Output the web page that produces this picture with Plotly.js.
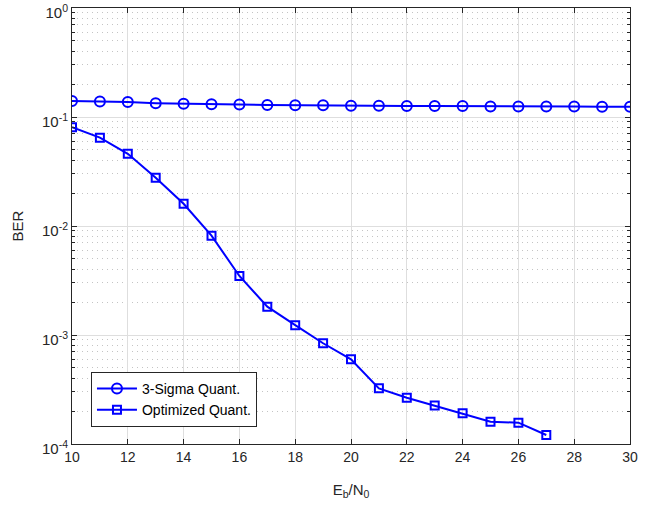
<!DOCTYPE html>
<html>
<head>
<meta charset="utf-8">
<script src="https://cdn.plot.ly/plotly-3.0.1.min.js"></script>
<style>html,body{margin:0;padding:0;background:#fff;}#plot{width:659px;height:510px;}</style>
</head>
<body>
<div id="plot"></div>
<script>
const ebn0_sigma = [10,11,12,13,14,15,16,17,18,19,20,21,22,23,24,25,26,27,28,29,30];
const ber_sigma = [0.140,0.139,0.137,0.134,0.132,0.131,0.130,0.129,0.128,0.128,0.127,0.127,0.126,0.126,0.126,0.125,0.125,0.125,0.125,0.124,0.124];
const ebn0_opt = [10,11,12,13,14,15,16,17,18,19,20,21,22,23,24,25,26,27];
const ber_opt = [0.0805,0.0646,0.046,0.0277,0.0160,0.00815,0.00348,0.00182,0.00123,0.00084,0.000598,0.000324,0.000266,0.000225,0.000191,0.000160,0.000157,0.000121];
const yTickVals = [1e-4,1e-3,1e-2,1e-1,1];
const yTickText = ['10<sup>-4</sup>','10<sup>-3</sup>','10<sup>-2</sup>','10<sup>-1</sup>','10<sup>0</sup>'];
const xTickVals = [10,12,14,16,18,20,22,24,26,28,30];
const seriesNames = ['3-Sigma Quant.','Optimized Quant.'];

const blue = '#0000ff';
const traces = [
  {x: ebn0_sigma, y: ber_sigma, name: seriesNames[0], mode: 'lines+markers',
   line: {color: blue, width: 2},
   marker: {symbol: 'circle-open', size: 10, color: blue, line: {color: blue, width: 2}}},
  {x: ebn0_opt, y: ber_opt, name: seriesNames[1], mode: 'lines+markers',
   line: {color: blue, width: 2},
   marker: {symbol: 'square-open', size: 8, color: blue, line: {color: blue, width: 2}}}
];
const axisCol = '#262626';
const layout = {
  width: 659, height: 510,
  margin: {l: 72, r: 29, t: 8, b: 66},
  paper_bgcolor: '#fff', plot_bgcolor: '#fff',
  font: {family: 'Liberation Sans, Arial, sans-serif', size: 14, color: axisCol},
  showlegend: true,
  legend: {x: 0.034, y: 0.039, xanchor: 'left', yanchor: 'bottom',
           bgcolor: '#fff', bordercolor: axisCol, borderwidth: 1,
           font: {size: 14, color: '#000'}, tracegroupgap: 0, itemwidth: 40},
  xaxis: {range: [10, 30], tickvals: xTickVals, ticks: 'inside', ticklen: 5,
          tickfont: {size: 14}, ticklabeloverflow: 'allow',
          tickcolor: axisCol, showline: true, linecolor: axisCol, linewidth: 1, mirror: 'ticks',
          showgrid: true, gridcolor: '#dedede', gridwidth: 1, zeroline: false,
          title: {text: 'E<sub>b</sub>/N<sub>0</sub>', font: {size: 15}, standoff: 20}},
  yaxis: {type: 'log', range: [-4, 0], tickvals: yTickVals, ticktext: yTickText,
          tickfont: {size: 15}, ticklabeloverflow: 'allow', ticklabelshift: 5,
          ticks: 'inside', ticklen: 5, tickcolor: axisCol,
          showline: true, linecolor: axisCol, linewidth: 1, mirror: 'ticks',
          showgrid: true, gridcolor: '#dedede', gridwidth: 1, zeroline: false,
          minor: {dtick: 'D1', ticks: 'inside', ticklen: 3, tickcolor: axisCol,
                  showgrid: true, gridcolor: '#c4c4c4', griddash: '1px,4px', gridwidth: 1},
          title: {text: 'BER', font: {size: 15}, standoff: 14}}
};
Plotly.newPlot('plot', traces, layout, {displayModeBar: false, staticPlot: true});
</script>
</body>
</html>
